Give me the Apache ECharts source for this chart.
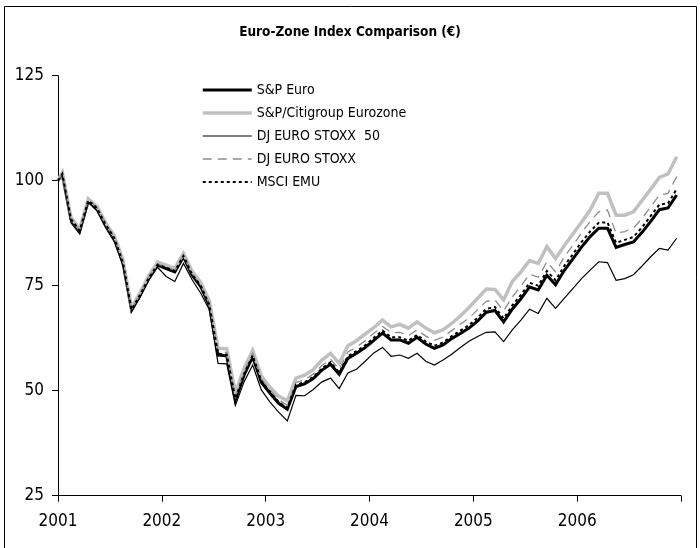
<!DOCTYPE html>
<html>
<head>
<meta charset="utf-8">
<script src="https://cdn.jsdelivr.net/npm/echarts@6/dist/echarts.min.js"></script>
<style>html,body{margin:0;padding:0;background:#fff}#c{width:700px;height:548px}</style>
</head>
<body>
<div id="c"></div>
<script>
// Monthly index values, rebased to 100 at start of 2001 (index 0), then one value per month Jan 2001 .. Dec 2006
const seriesNames = ['S&P Euro', 'S&P/Citigroup Eurozone', 'DJ EURO STOXX  50', 'DJ EURO STOXX', 'MSCI EMU'];
const spEuro = [100,101.5,90.8,88.0,95.2,93.4,89.5,86.3,80.5,69.2,72.8,76.8,79.9,79.1,78.3,81.9,77.5,74.8,70.2,58.5,58.3,47.8,53.7,58.1,52.0,49.4,47.0,45.6,51.0,51.6,52.9,54.9,56.3,53.9,57.7,58.9,60.3,62.0,63.7,62.1,62.1,61.3,62.7,61.1,60.1,60.9,62.4,63.6,64.9,66.6,68.7,69.1,66.4,69.4,71.9,74.7,74.0,77.5,75.2,78.6,81.4,84.2,86.7,88.7,88.7,84.1,84.8,85.4,87.7,90.3,93.1,93.5,96.6];
const spCiti = [100,101.9,91.3,88.5,95.7,93.9,90.0,86.9,81.2,69.8,73.4,77.4,80.6,79.9,79.1,82.7,78.4,75.8,71.3,60.1,60.0,49.5,55.3,59.6,53.5,50.8,48.7,47.6,53.0,53.7,55.0,57.3,58.9,56.5,60.7,61.9,63.5,65.0,66.8,65.2,65.8,64.9,66.4,64.9,63.8,64.5,66.0,67.8,69.8,72.0,74.2,74.1,71.6,76.0,78.3,81.0,80.3,84.3,81.5,84.5,87.3,90.1,93.0,97.0,97.0,91.8,91.8,92.6,95.3,98.0,100.8,101.6,105.7];
const djStoxx50 = [100,101.2,90.0,87.3,94.8,92.8,88.8,85.5,79.8,68.8,72.3,76.3,79.4,77.2,76.0,80.3,76.4,73.2,69.2,56.5,56.4,46.5,52.1,56.1,50.2,47.3,44.9,42.8,48.9,48.8,50.3,52.1,53.0,50.5,54.2,55.1,57.0,59.0,60.3,58.2,58.5,57.7,58.9,57.0,56.1,57.3,58.7,60.3,61.8,62.9,63.9,64.0,61.7,64.5,66.8,69.4,68.4,72.0,69.6,72.0,74.3,76.7,78.7,80.7,80.5,76.3,76.7,77.6,79.7,81.9,83.9,83.5,86.3];
const djStoxx = [100,101.7,91.0,88.2,95.5,93.6,89.8,86.6,80.8,69.4,73.0,77.1,80.2,79.4,78.7,82.3,77.9,75.3,70.8,59.3,59.1,48.6,54.5,58.9,52.8,50.2,47.9,46.5,52.0,52.6,54.0,56.0,57.5,55.1,59.2,60.4,61.9,63.7,65.3,63.8,63.9,63.1,64.5,63.0,62.0,62.8,64.3,65.8,67.3,69.3,71.3,71.6,69.0,72.3,74.9,77.7,77.0,80.7,78.3,81.8,84.6,87.6,90.3,92.6,93.0,87.5,87.9,88.7,91.0,93.8,96.6,97.0,101.0];
const msciEmu = [100,101.6,90.9,88.1,95.3,93.5,89.6,86.4,80.6,69.3,72.9,76.9,80.0,79.3,78.5,82.1,77.7,75.0,70.4,58.8,58.6,48.1,54.0,58.4,52.3,49.7,47.3,45.9,51.4,52.0,53.3,55.3,56.8,54.3,58.2,59.4,60.8,62.6,64.3,62.7,62.7,61.9,63.3,61.7,60.7,61.5,63.0,64.3,65.6,67.4,69.5,69.9,67.2,70.3,72.8,75.7,75.0,78.5,76.3,79.7,82.5,85.4,87.9,90.0,90.1,85.2,85.9,86.6,88.9,91.6,94.3,94.6,98.0];
const yearTicks = [2001, 2002, 2003, 2004, 2005, 2006];
const yTicks = [25, 50, 75, 100, 125];

const startYear = 2001;
// index 0 = start of 2001; index k (k>=1) = middle of month k
function xOf(k) { return startYear + (k === 0 ? 0 : (k - 0.5) / 12); }
function pairs(arr) { return arr.map((v, k) => [xOf(k), v]); }

const FONT = '"Liberation Sans Narrow","Arial Narrow","DejaVu Sans Condensed",sans-serif';

const styles = [
  {color: '#000000', width: 3, type: 'solid'},
  {color: '#c0c0c0', width: 3.5, type: 'solid'},
  {color: '#000000', width: 1.2, type: 'solid'},
  {color: '#8c8c8c', width: 1.3, type: [9, 6]},
  {color: '#000000', width: 2, type: [3, 3]}
];
const datasets = [spEuro, spCiti, djStoxx50, djStoxx, msciEmu];

const chart = echarts.init(document.getElementById('c'), null, {renderer: 'canvas'});
chart.setOption({
  backgroundColor: '#fff',
  animation: false,
  title: {
    text: 'Euro-Zone Index Comparison (€)',
    left: 'center', top: 20,
    textStyle: {fontFamily: FONT, fontSize: 13.5, fontWeight: 'bold', color: '#000'}
  },
  graphic: [{
    type: 'rect', silent: true,
    shape: {x: 4.5, y: 6.5, width: 692, height: 600},
    style: {fill: 'none', stroke: '#000', lineWidth: 1}
  }],
  legend: {
    orient: 'vertical', left: 196, top: 78,
    itemWidth: 49, itemHeight: 14, itemGap: 9,
    itemStyle: {opacity: 0},
    textStyle: {fontFamily: FONT, fontSize: 14, color: '#000'},
    data: seriesNames.map((n, i) => ({
      name: n,
      lineStyle: {color: styles[i].color, width: styles[i].width, type: styles[i].type, cap: 'butt'}
    }))
  },
  grid: {left: 58, right: 19, top: 75.7, bottom: 52.3, containLabel: false},
  xAxis: {
    type: 'value', min: 2001, max: 2007, interval: 1,
    axisLine: {lineStyle: {color: '#000', width: 1}},
    axisTick: {show: true, length: 6, inside: false, lineStyle: {color: '#000'}},
    splitLine: {show: false},
    axisLabel: {
      fontFamily: FONT, fontSize: 17, color: '#000', margin: 17,
      formatter: v => yearTicks.includes(v) ? String(v) : ''
    }
  },
  yAxis: {
    type: 'value', min: 25, max: 125, interval: 25,
    axisLine: {show: true, lineStyle: {color: '#000', width: 1}},
    axisTick: {show: true, length: 6, lineStyle: {color: '#000'}},
    splitLine: {show: false},
    axisLabel: {
      fontFamily: FONT, fontSize: 17, color: '#000', margin: 14,
      formatter: v => yTicks.includes(v) ? String(v) : ''
    }
  },
  series: datasets.map((d, i) => ({
    name: seriesNames[i],
    type: 'line',
    data: pairs(d),
    symbol: 'none',
    showSymbol: false,
    lineStyle: {color: styles[i].color, width: styles[i].width, type: styles[i].type, join: 'miter', cap: 'butt'},
    itemStyle: {color: styles[i].color},
    z: 2 + i
  }))
});
</script>
</body>
</html>
